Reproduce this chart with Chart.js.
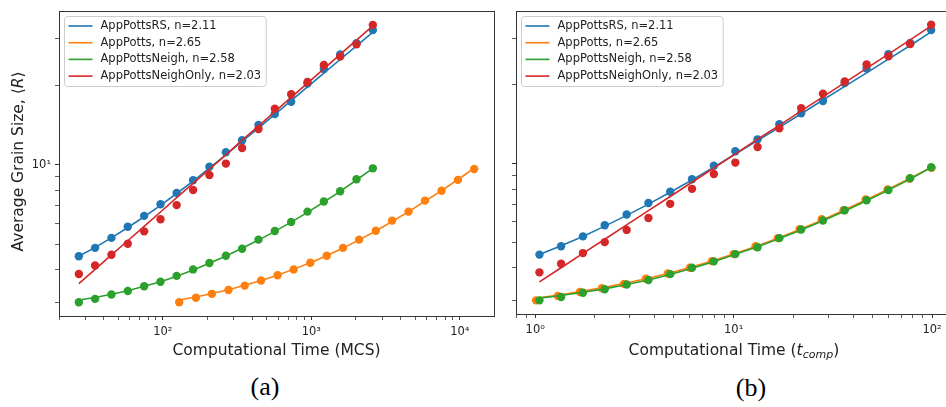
<!DOCTYPE html>
<html>
<head>
<meta charset="utf-8">
<script src="https://cdn.jsdelivr.net/npm/chart.js@4.4.1/dist/chart.umd.min.js"></script>
<style>
  html, body { margin:0; padding:0; background:#fff; overflow:hidden; width:946px; height:407px; }
  canvas { position:absolute; top:0; }
  #chartA { left:0; }
  #chartB { left:500px; }
  .lbl { position:absolute; font-family:"Liberation Serif", serif; font-size:26px; color:#000; transform:translate(-50%,-50%); }
</style>
</head>
<body>
<canvas id="chartA" width="500" height="360"></canvas>
<canvas id="chartB" width="456" height="360"></canvas>
<div class="lbl" style="left:265px;top:387px">(a)</div>
<div class="lbl" style="left:751px;top:388px">(b)</div>
<script>
// legend names + colours (RS, Potts, Neigh, NeighOnly)
const names = ['AppPottsRS, n=2.11', 'AppPotts, n=2.65', 'AppPottsNeigh, n=2.58', 'AppPottsNeighOnly, n=2.03'];
const colors = ['#1f77b4', '#ff7f0e', '#2ca02c', '#d62728'];

// x values panel (a), MCS
const mcs = [27.2, 35.0, 45.1, 58.1, 74.9, 96.5, 124, 160, 206, 266, 342, 441, 568, 732, 943, 1215, 1565, 2016, 2597];
const mcs_potts = [129, 167, 214, 277, 356, 459, 593, 761, 985, 1270, 1635, 2100, 2720, 3500, 4520, 5830, 7540, 9720, 12500];

// x values panel (b), t_comp
const tcomp = [1.05, 1.35, 1.74, 2.24, 2.89, 3.72, 4.79, 6.17, 7.95, 10.2, 13.2, 17.0, 21.9, 28.2, 36.3, 46.8, 60.3, 77.6, 99.0];
const tcomp_potts = [1.01, 1.30, 1.68, 2.17, 2.80, 3.61, 4.66, 6.02, 7.77, 10.0, 12.9, 16.7, 21.5, 27.8, 35.8, 46.3, 59.7, 77.1, 99.5];

// average grain size, measured
const rs_pts = [4.50, 4.84, 5.28, 5.82, 6.40, 7.08, 7.82, 8.73, 9.83, 11.16, 12.39, 14.15, 15.57, 17.34, 20.3, 23.07, 26.2, 28.9, 32.4];
const potts_pts = [3.01, 3.13, 3.24, 3.35, 3.48, 3.64, 3.81, 4.01, 4.25, 4.52, 4.84, 5.20, 5.62, 6.14, 6.64, 7.31, 7.97, 8.76, 9.64];
const neigh_pts = [3.01, 3.10, 3.22, 3.32, 3.46, 3.60, 3.79, 4.01, 4.24, 4.52, 4.80, 5.20, 5.61, 6.07, 6.64, 7.25, 7.93, 8.81, 9.69];
const neighonly_pts = [3.85, 4.15, 4.56, 5.02, 5.59, 6.21, 7.03, 8.02, 9.14, 10.1, 11.58, 13.65, 16.3, 18.5, 20.6, 23.9, 25.7, 28.6, 33.9];

// fitted curves
const rs_fit = [4.50, 4.86, 5.28, 5.78, 6.35, 7.01, 7.78, 8.67, 9.70, 10.89, 12.25, 13.77, 15.52, 17.50, 19.72, 22.23, 25.06, 28.25, 31.84];
const potts_fit = [3.07, 3.15, 3.25, 3.36, 3.49, 3.64, 3.81, 4.02, 4.25, 4.52, 4.83, 5.19, 5.61, 6.09, 6.64, 7.27, 7.98, 8.79, 9.70];
const neigh_fit = [3.07, 3.14, 3.23, 3.33, 3.46, 3.60, 3.78, 3.99, 4.23, 4.51, 4.82, 5.18, 5.59, 6.06, 6.60, 7.22, 7.93, 8.75, 9.68];
const neighonly_fit = [3.54, 4.01, 4.55, 5.15, 5.84, 6.62, 7.50, 8.50, 9.63, 10.9, 12.4, 14.0, 15.9, 18.0, 20.4, 23.1, 26.2, 29.7, 33.6];

// ticks
const decades_a = [10, 100, 1000, 10000];
const decades_b = [0.1, 1, 10, 100];
const decades_y = [1, 10];
const xlabels_a = {100: '10²', 1000: '10³', 10000: '10⁴'};
const xlabels_b = {1: '10⁰', 10: '10¹', 100: '10²'};
const ylabels = {10: '10¹'};

const FONT = '"DejaVu Sans", sans-serif';

function log_ticks(decades, min, max) {
  let out = [];
  decades.forEach(d => {
    for (let m = 1; m < 10; m++) {
      let v = +(d * m).toPrecision(6);
      if (v >= min && v <= max) out.push({value: v, major: m === 1});
    }
  });
  return out;
}

function pts(xs, ys) { return xs.map((x, i) => ({x: x, y: ys[i]})); }

function series(xs_list, ys_pts, ys_fit) {
  let ds = [];
  let k = 0;
  for (let i = 0; i < 4; i++) {
    ds.push({ label: names[i], data: pts(xs_list[i], ys_fit[i]), showLine: true, pointRadius: 0,
              borderColor: colors[i], backgroundColor: colors[i], borderWidth: 1.6, order: 100 - (k++) });
    ds.push({ data: pts(xs_list[i], ys_pts[i]), showLine: false, pointRadius: 4.2, pointHoverRadius: 4.2,
              borderWidth: 0, borderColor: colors[i], backgroundColor: colors[i], order: 100 - (k++) });
  }
  return ds;
}

// draws text runs with italic / subscript parts
function rich_text(ctx, parts, x, y, rotate) {
  const size = 15.5;
  const fontOf = p => (p.i ? 'italic ' : '') + (p.sub ? 11 : size) + 'px ' + FONT;
  ctx.save();
  ctx.translate(x, y);
  if (rotate) ctx.rotate(-Math.PI / 2);
  let total = 0;
  parts.forEach(p => { ctx.font = fontOf(p); p.w = ctx.measureText(p.t).width; total += p.w; });
  let cx = -total / 2;
  ctx.fillStyle = '#222';
  ctx.textBaseline = 'alphabetic';
  parts.forEach(p => { ctx.font = fontOf(p); ctx.fillText(p.t, cx, 5.5 + (p.sub ? 3 : 0)); cx += p.w; });
  ctx.restore();
}

const frame_and_legend = {
  id: 'frame_and_legend',
  afterDraw(chart) {
    const ctx = chart.ctx, a = chart.chartArea;
    const o = chart.options.plugins.frame_and_legend;
    ctx.save();
    // box round the plot
    ctx.strokeStyle = '#333';
    ctx.lineWidth = 1;
    ctx.strokeRect(Math.round(a.left) + 0.5, Math.round(a.top) + 0.5,
                   Math.round(a.right - a.left), Math.round(a.bottom - a.top));
    // legend
    const items = chart.data.datasets.filter(d => d.label);
    ctx.font = '11.5px ' + FONT;
    const maxw = Math.max(...items.map(d => ctx.measureText(d.label).width));
    const bx = Math.round(a.left) + 5.5, by = Math.round(a.top) + 5.5;
    const bw = 36 + maxw + 5, bh = 70;
    ctx.fillStyle = 'rgba(255,255,255,0.8)';
    ctx.strokeStyle = '#cccccc';
    ctx.beginPath();
    ctx.roundRect(bx, by, bw, bh, 3);
    ctx.fill();
    ctx.stroke();
    items.forEach((d, i) => {
      const yy = by + 9.5 + i * 16.7;
      ctx.strokeStyle = d.borderColor;
      ctx.lineWidth = 1.6;
      ctx.beginPath();
      ctx.moveTo(bx + 4, yy);
      ctx.lineTo(bx + 28, yy);
      ctx.stroke();
      ctx.fillStyle = '#222';
      ctx.textBaseline = 'middle';
      ctx.fillText(d.label, bx + 36, yy);
    });
    // axis titles
    const cxm = (a.left + a.right) / 2;
    rich_text(ctx, o.xtitle, cxm, 349, false);
    if (o.ytitle) rich_text(ctx, o.ytitle, 17, (a.top + a.bottom) / 2 - 2, true);
    ctx.restore();
  }
};

function make_chart(id, cfg) {
  const axis_common = (ticks, labels, min, max) => ({
    type: 'logarithmic', min: min, max: max,
    border: { display: false },
    grid: { drawOnChartArea: false, drawTicks: true, tickLength: 4, tickColor: '#333',
            tickWidth: c => (c.tick && c.tick.major ? 1 : 0.8) },
    afterBuildTicks: s => { s.ticks = ticks; },
    ticks: { autoSkip: false, maxRotation: 0, padding: 5, color: '#222', font: { family: FONT, size: 11.5 },
             callback: v => labels[v] || '' }
  });
  const x = axis_common(cfg.xticks, cfg.xlabels, cfg.xmin, cfg.xmax);
  x.afterFit = s => { s.height = cfg.xh; };
  const y = axis_common(cfg.yticks, cfg.ylabels, cfg.ymin, cfg.ymax);
  y.ticks.padding = 4;
  y.afterFit = s => { s.width = cfg.yw; };
  return new Chart(document.getElementById(id), {
    type: 'scatter',
    data: { datasets: cfg.datasets },
    options: {
      responsive: false, animation: false, devicePixelRatio: 1,
      layout: { padding: cfg.pad },
      scales: { x: x, y: y },
      plugins: { legend: { display: false }, tooltip: { enabled: false },
                 frame_and_legend: { xtitle: cfg.xtitle, ytitle: cfg.ytitle } }
    },
    plugins: [frame_and_legend]
  });
}

const ymin = 2.67, ymax = 38.3;

make_chart('chartA', {
  datasets: series([mcs, mcs_potts, mcs, mcs],
                   [rs_pts, potts_pts, neigh_pts, neighonly_pts],
                   [rs_fit, potts_fit, neigh_fit, neighonly_fit]),
  xmin: 20, xmax: 17000, ymin: ymin, ymax: ymax,
  xticks: log_ticks(decades_a, 20, 17000), xlabels: xlabels_a,
  yticks: log_ticks(decades_y, ymin, ymax), ylabels: ylabels,
  xh: 44, yw: 59, pad: { top: 2, right: 6, left: 0, bottom: 0 },
  xtitle: [{t: 'Computational Time (MCS)'}],
  ytitle: [{t: 'Average Grain Size, '}, {t: '⟨'}, {t: 'R', i: 1}, {t: '⟩'}]
});

make_chart('chartB', {
  datasets: series([tcomp, tcomp_potts, tcomp, tcomp],
                   [rs_pts, potts_pts, neigh_pts, neighonly_pts],
                   [rs_fit, potts_fit, neigh_fit, neighonly_fit]),
  xmin: 0.80, xmax: 125.8, ymin: ymin, ymax: ymax,
  xticks: log_ticks(decades_b, 0.8, 125.8), xlabels: xlabels_b,
  yticks: log_ticks(decades_y, ymin, ymax), ylabels: {},
  xh: 46, yw: 16, pad: { top: 1, right: 1, left: 0, bottom: 0 },
  xtitle: [{t: 'Computational Time ('}, {t: 't', i: 1}, {t: 'comp', i: 1, sub: 1}, {t: ')'}],
  ytitle: null
});
</script>
</body>
</html>
